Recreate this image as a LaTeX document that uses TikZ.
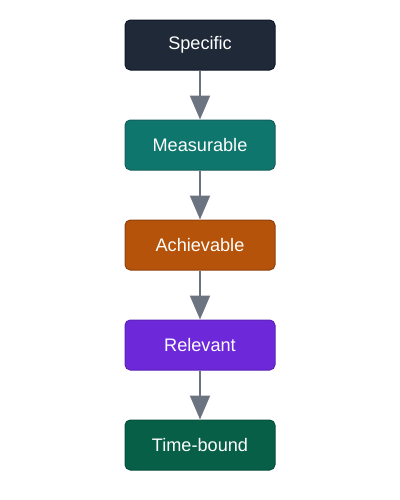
\documentclass[tikz,border=0pt]{standalone}
\usepackage{fontspec}
\setmainfont{Liberation Sans}
\usetikzlibrary{arrows.meta,positioning}
\definecolor{specfill}{HTML}{1F2937}
\definecolor{specdraw}{HTML}{111827}
\definecolor{measfill}{HTML}{0F766E}
\definecolor{measdraw}{HTML}{115E59}
\definecolor{achfill}{HTML}{B45309}
\definecolor{achdraw}{HTML}{92400E}
\definecolor{relfill}{HTML}{6D28D9}
\definecolor{reldraw}{HTML}{5B21B6}
\definecolor{timefill}{HTML}{065F46}
\definecolor{timedraw}{HTML}{064E3B}
\definecolor{arrowgray}{HTML}{6B7280}

\begin{document}
\begin{tikzpicture}[node distance=36.75pt,>={Triangle[width=15pt,length=18pt]},
    goalbox/.style={draw,line width=0.75pt,rounded corners=4pt,text=white,
      minimum width=112.5pt,minimum height=37.5pt,
      font=\fontsize{13.6pt}{16pt}\selectfont}]
    \useasboundingbox (0,0) rectangle (300pt,-375pt);
    % SMART steps
    \node[goalbox,fill=specfill,draw=specdraw] (spec) at (150pt,-33.75pt) {Specific};
    \node[goalbox,fill=measfill,draw=measdraw,below=of spec] (meas) {Measurable};
    \node[goalbox,fill=achfill,draw=achdraw,below=of meas] (ach) {Achievable};
    \node[goalbox,fill=relfill,draw=reldraw,below=of ach] (rel) {Relevant};
    \node[goalbox,fill=timefill,draw=timedraw,below=of rel] (time) {Time-bound};
    % links
    \draw[->,arrowgray,line width=1.5pt] (spec) -- (meas);
    \draw[->,arrowgray,line width=1.5pt] (meas) -- (ach);
    \draw[->,arrowgray,line width=1.5pt] (ach) -- (rel);
    \draw[->,arrowgray,line width=1.5pt] (rel) -- (time);
\end{tikzpicture}
\end{document}
